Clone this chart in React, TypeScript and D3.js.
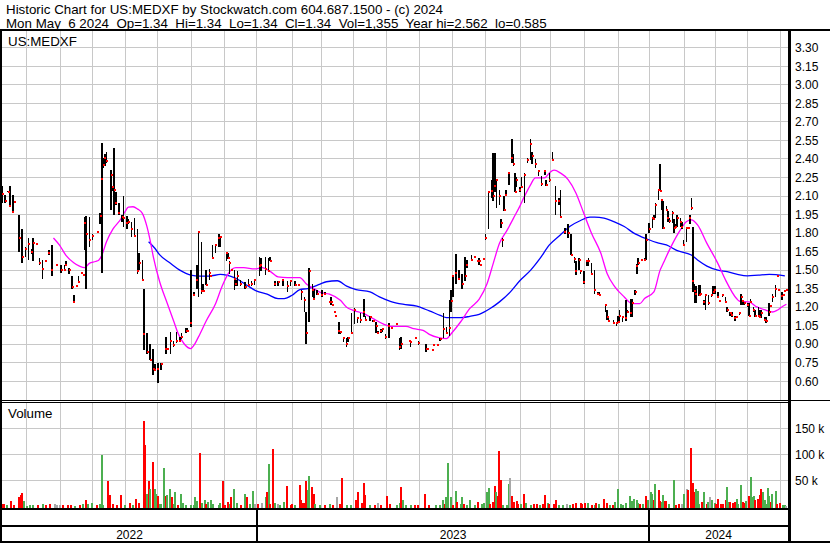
import * as d3 from "d3";

// trading-day index, high, low, close
const bars: [number, number, number, number][] = [
  [0, 2.18, 2.04, 2.12], [2, 2.11, 2.04, 2.06], [4, 2.14, 2.13, 2.13], [5, 2.18, 2.01, 2.02],
  [7, 2.11, 1.96, 1.97], [8, 2.05, 2.05, 2.05], [11, 1.95, 1.65, 1.76], [13, 1.83, 1.56, 1.61],
  [15, 1.69, 1.61, 1.67], [17, 1.76, 1.58, 1.71], [19, 1.67, 1.63, 1.65], [20, 1.76, 1.57, 1.72],
  [22, 1.71, 1.71, 1.71], [24, 1.6, 1.54, 1.56], [26, 1.58, 1.43, 1.51], [28, 1.57, 1.57, 1.57],
  [30, 1.66, 1.62, 1.64], [32, 1.7, 1.45, 1.5], [35, 1.54, 1.54, 1.54], [38, 1.54, 1.48, 1.5],
  [40, 1.54, 1.49, 1.5], [41, 1.57, 1.53, 1.54], [43, 1.52, 1.47, 1.5], [45, 1.45, 1.35, 1.36],
  [46, 1.3, 1.24, 1.24], [48, 1.37, 1.37, 1.37], [49, 1.45, 1.4, 1.4], [51, 1.48, 1.48, 1.48],
  [52, 1.46, 1.46, 1.46], [53, 1.93, 1.66, 1.88], [54, 1.94, 1.35, 1.79], [56, 1.93, 1.69, 1.74],
  [58, 1.79, 1.74, 1.78], [61, 1.81, 1.81, 1.81], [63, 1.96, 1.87, 1.94], [64, 2.53, 1.48, 2.24],
  [65, 2.41, 2.33, 2.35], [66, 2.44, 2.34, 2.41], [67, 2.46, 2.37, 2.38], [70, 2.31, 1.99, 2.27],
  [71, 2.17, 2.14, 2.17], [72, 2.49, 1.95, 2.15], [73, 2.13, 2.03, 2.04], [75, 2.04, 1.95, 1.96],
  [77, 1.95, 1.89, 1.93], [78, 2.1, 1.85, 1.92], [80, 1.94, 1.83, 1.88], [81, 1.91, 1.87, 1.89],
  [83, 1.89, 1.77, 1.83], [85, 1.92, 1.78, 1.78], [87, 1.83, 1.47, 1.49], [88, 1.64, 1.5, 1.56],
  [90, 1.58, 1.42, 1.42], [91, 1.35, 0.85, 0.98], [93, 0.99, 0.82, 0.84], [95, 0.9, 0.77, 0.77],
  [97, 0.86, 0.65, 0.7], [98, 0.74, 0.68, 0.69], [100, 0.75, 0.585, 0.7], [102, 0.75, 0.69, 0.74],
  [105, 0.96, 0.82, 0.86], [106, 0.86, 0.86, 0.86], [108, 1.0, 0.82, 0.93], [110, 0.93, 0.88, 0.89],
  [112, 1.0, 0.91, 0.93], [114, 0.96, 0.92, 0.93], [115, 0.99, 0.94, 0.96], [118, 1.03, 0.99, 1.01],
  [119, 1.03, 1.0, 1.01], [121, 1.5, 1.04, 1.07], [123, 1.32, 1.3, 1.3], [125, 1.54, 1.35, 1.42],
  [126, 1.82, 1.28, 1.81], [128, 1.73, 1.31, 1.33], [129, 1.39, 1.32, 1.33], [131, 1.5, 1.38, 1.38],
  [133, 1.51, 1.42, 1.48], [134, 1.45, 1.45, 1.45], [135, 1.7, 1.59, 1.6], [137, 1.7, 1.64, 1.7],
  [139, 1.79, 1.69, 1.76], [140, 1.77, 1.69, 1.77], [144, 1.65, 1.57, 1.64], [145, 1.64, 1.59, 1.6],
  [146, 1.57, 1.47, 1.56], [147, 1.5, 1.5, 1.5], [149, 1.5, 1.34, 1.43], [150, 1.42, 1.37, 1.39],
  [151, 1.49, 1.37, 1.45], [153, 1.42, 1.37, 1.39], [156, 1.4, 1.35, 1.36], [158, 1.43, 1.37, 1.38],
  [160, 1.41, 1.37, 1.39], [162, 1.43, 1.38, 1.42], [165, 1.61, 1.45, 1.53], [166, 1.6, 1.49, 1.54],
  [169, 1.61, 1.46, 1.51], [171, 1.6, 1.49, 1.49], [172, 1.61, 1.57, 1.57], [175, 1.41, 1.37, 1.39],
  [177, 1.41, 1.37, 1.4], [180, 1.42, 1.37, 1.42], [183, 1.41, 1.32, 1.37], [185, 1.42, 1.37, 1.41],
  [188, 1.41, 1.37, 1.38], [190, 1.39, 1.37, 1.38], [192, 1.34, 1.26, 1.32], [194, 1.28, 1.16, 1.26],
  [195, 1.16, 0.9, 0.99], [197, 1.52, 1.08, 1.49], [199, 1.39, 1.28, 1.34], [200, 1.35, 1.26, 1.27],
  [202, 1.34, 1.3, 1.31], [205, 1.34, 1.28, 1.3], [207, 1.32, 1.3, 1.31], [210, 1.24, 1.23, 1.24],
  [211, 1.28, 1.22, 1.24], [212, 1.22, 1.22, 1.22], [213, 1.16, 1.16, 1.16], [214, 1.13, 1.13, 1.13],
  [216, 1.08, 0.98, 1.01], [217, 1.01, 0.98, 1.0], [219, 0.96, 0.92, 0.95], [221, 0.95, 0.88, 0.9],
  [222, 0.96, 0.92, 0.95], [224, 1.15, 0.98, 0.99], [226, 1.19, 1.06, 1.18], [228, 1.12, 1.07, 1.11],
  [230, 1.15, 1.07, 1.1], [232, 1.27, 1.12, 1.16], [233, 1.13, 1.09, 1.1], [236, 1.13, 1.09, 1.12],
  [238, 1.1, 1.08, 1.09], [240, 1.08, 0.99, 1.05], [241, 1.01, 0.98, 0.99], [243, 1.02, 0.99, 1.01],
  [244, 1.03, 1.0, 1.02], [246, 0.98, 0.94, 0.96], [248, 1.07, 0.95, 1.05], [250, 1.03, 1.03, 1.03],
  [253, 1.06, 1.06, 1.06], [255, 0.95, 0.85, 0.88], [256, 0.96, 0.86, 0.9], [261, 0.93, 0.93, 0.93],
  [262, 0.93, 0.88, 0.92], [265, 0.95, 0.95, 0.95], [267, 0.93, 0.89, 0.91], [272, 0.9, 0.84, 0.86],
  [273, 0.86, 0.86, 0.86], [276, 0.85, 0.85, 0.85], [277, 0.89, 0.89, 0.89], [279, 0.89, 0.89, 0.89],
  [281, 0.95, 0.93, 0.94], [283, 1.15, 0.95, 1.02], [285, 1.04, 0.98, 0.99], [287, 1.26, 0.97, 1.03],
  [288, 1.34, 1.16, 1.25], [289, 1.46, 1.28, 1.45], [291, 1.63, 1.39, 1.48], [293, 1.5, 1.43, 1.43],
  [295, 1.47, 1.35, 1.39], [297, 1.61, 1.41, 1.45], [298, 1.58, 1.52, 1.54], [301, 1.62, 1.57, 1.58],
  [303, 1.61, 1.61, 1.61], [305, 1.57, 1.57, 1.57], [306, 1.6, 1.54, 1.57], [307, 1.54, 1.54, 1.54],
  [309, 1.59, 1.59, 1.59], [310, 1.79, 1.74, 1.76], [312, 2.13, 1.83, 2.13], [314, 2.23, 2.08, 2.14],
  [315, 2.45, 2.06, 2.1], [316, 2.45, 2.13, 2.18], [317, 2.23, 2.0, 2.23], [319, 2.15, 2.03, 2.1],
  [320, 1.91, 1.84, 1.88], [321, 1.76, 1.69, 1.74], [322, 2.1, 1.98, 1.99], [323, 2.15, 2.1, 2.11],
  [325, 2.29, 2.19, 2.29], [327, 2.56, 2.37, 2.41], [328, 2.44, 2.34, 2.36], [329, 2.29, 2.13, 2.13],
  [330, 2.25, 2.17, 2.23], [332, 2.17, 2.13, 2.15], [333, 2.25, 2.17, 2.17], [335, 2.29, 2.04, 2.27],
  [337, 2.41, 2.37, 2.39], [339, 2.562, 2.39, 2.52], [340, 2.46, 2.36, 2.42], [342, 2.4, 2.33, 2.36],
  [344, 2.31, 2.26, 2.3], [346, 2.26, 2.18, 2.2], [348, 2.31, 2.27, 2.3], [349, 2.23, 2.18, 2.19],
  [351, 2.29, 2.21, 2.23], [353, 2.46, 2.38, 2.39], [355, 2.18, 1.95, 2.06], [357, 2.08, 2.03, 2.06],
  [358, 2.15, 1.93, 1.93], [361, 1.84, 1.79, 1.81], [363, 1.87, 1.76, 1.8], [365, 1.79, 1.62, 1.62],
  [367, 1.61, 1.56, 1.59], [368, 1.57, 1.46, 1.49], [370, 1.6, 1.5, 1.58], [371, 1.5, 1.47, 1.49],
  [373, 1.49, 1.39, 1.4], [375, 1.58, 1.53, 1.57], [376, 1.6, 1.53, 1.57], [378, 1.56, 1.47, 1.47],
  [380, 1.5, 1.31, 1.34], [382, 1.32, 1.3, 1.31], [383, 1.32, 1.3, 1.3], [387, 1.22, 1.16, 1.22],
  [388, 1.18, 1.1, 1.12], [389, 1.11, 1.08, 1.09], [392, 1.1, 1.06, 1.07], [394, 1.08, 1.05, 1.07],
  [395, 1.13, 1.07, 1.08], [396, 1.18, 1.09, 1.13], [398, 1.13, 1.08, 1.12], [400, 1.26, 1.09, 1.11],
  [401, 1.18, 1.15, 1.16], [403, 1.27, 1.12, 1.15], [404, 1.27, 1.12, 1.23], [406, 1.34, 1.3, 1.32],
  [407, 1.55, 1.47, 1.53], [408, 1.6, 1.54, 1.56], [410, 1.59, 1.57, 1.58], [412, 1.6, 1.58, 1.58],
  [413, 1.79, 1.58, 1.74], [415, 1.88, 1.8, 1.83], [417, 1.93, 1.84, 1.92], [418, 1.95, 1.91, 1.91],
  [419, 2.04, 1.92, 2.03], [421, 2.15, 2.07, 2.15], [422, 2.36, 2.14, 2.14], [423, 2.07, 1.99, 2.07],
  [424, 2.06, 1.83, 1.84], [426, 2.02, 1.98, 1.99], [427, 1.98, 1.89, 1.92], [428, 1.92, 1.88, 1.9],
  [430, 1.98, 1.88, 1.96], [431, 1.91, 1.8, 1.84], [432, 1.87, 1.84, 1.85], [433, 1.95, 1.85, 1.92],
  [435, 1.92, 1.85, 1.89], [436, 1.89, 1.83, 1.85], [437, 1.74, 1.7, 1.7], [439, 1.84, 1.73, 1.84],
  [440, 1.85, 1.83, 1.84], [441, 1.95, 1.87, 1.92], [442, 2.08, 1.99, 2.0], [443, 1.85, 1.32, 1.41],
  [444, 1.39, 1.23, 1.33], [445, 1.37, 1.23, 1.31], [447, 1.38, 1.29, 1.3], [448, 1.38, 1.31, 1.31],
  [450, 1.26, 1.22, 1.24], [451, 1.3, 1.18, 1.3], [453, 1.3, 1.22, 1.23], [455, 1.3, 1.28, 1.3],
  [456, 1.37, 1.31, 1.32], [457, 1.37, 1.31, 1.34], [459, 1.32, 1.28, 1.28], [460, 1.25, 1.25, 1.25],
  [462, 1.31, 1.28, 1.3], [464, 1.28, 1.23, 1.24], [465, 1.2, 1.16, 1.18], [467, 1.16, 1.13, 1.15],
  [468, 1.16, 1.12, 1.14], [470, 1.13, 1.09, 1.11], [471, 1.12, 1.11, 1.12], [473, 1.16, 1.14, 1.15],
  [474, 1.31, 1.22, 1.28], [475, 1.26, 1.22, 1.25], [476, 1.24, 1.22, 1.23], [478, 1.23, 1.2, 1.22],
  [479, 1.23, 1.13, 1.13], [480, 1.27, 1.23, 1.24], [482, 1.2, 1.16, 1.18], [483, 1.18, 1.12, 1.13],
  [485, 1.2, 1.12, 1.13], [486, 1.18, 1.12, 1.12], [487, 1.18, 1.11, 1.15], [489, 1.12, 1.09, 1.1],
  [490, 1.12, 1.07, 1.09], [492, 1.23, 1.13, 1.16], [493, 1.21, 1.21, 1.21], [494, 1.31, 1.24, 1.28],
  [496, 1.38, 1.28, 1.35], [497, 1.45, 1.45, 1.45], [498, 1.34, 1.34, 1.34], [500, 1.32, 1.26, 1.29],
  [501, 1.3, 1.3, 1.3], [502, 1.33, 1.33, 1.33], [503, 1.34, 1.34, 1.34],
];

// trading-day index, volume in thousands, u = up / d = down / n = unchanged
const volume: [number, number, string][] = [
  [0, 4, "d"], [1, 5, "d"], [3, 2, "u"], [6, 11, "d"], [8, 2, "d"], [11, 18, "d"], [12, 22, "d"], [13, 26, "d"],
  [14, 11, "u"], [16, 1, "u"], [18, 2, "u"], [20, 2, "u"], [23, 3, "d"], [26, 4, "u"], [28, 2, "d"], [31, 4, "d"],
  [34, 4, "n"], [35, 3, "n"], [37, 2, "n"], [39, 2, "d"], [42, 3, "d"], [44, 2, "d"], [47, 1, "u"], [50, 3, "d"],
  [52, 5, "u"], [54, 13, "d"], [55, 4, "u"], [58, 6, "u"], [61, 2, "d"], [63, 4, "u"], [64, 98, "u"], [65, 3, "u"],
  [68, 49, "d"], [69, 21, "d"], [71, 4, "d"], [74, 2, "d"], [76, 21, "d"], [79, 2, "u"], [82, 6, "d"], [84, 2, "u"],
  [86, 14, "d"], [88, 7, "d"], [91, 165, "d"], [92, 117, "d"], [93, 23, "u"], [94, 48, "d"], [95, 33, "u"], [97, 86, "d"],
  [98, 33, "u"], [99, 23, "u"], [100, 19, "d"], [101, 5, "u"], [102, 4, "u"], [104, 74, "u"], [105, 19, "d"], [106, 21, "u"],
  [108, 34, "u"], [109, 17, "d"], [110, 5, "u"], [111, 27, "u"], [113, 3, "d"], [115, 23, "u"], [116, 6, "u"], [118, 3, "u"],
  [121, 2, "u"], [123, 3, "u"], [124, 17, "u"], [125, 11, "u"], [127, 103, "d"], [128, 6, "u"], [130, 12, "u"], [131, 4, "d"],
  [132, 8, "u"], [134, 12, "u"], [135, 5, "u"], [139, 2, "u"], [140, 6, "u"], [142, 48, "d"], [143, 2, "d"], [145, 8, "d"],
  [146, 4, "u"], [147, 17, "d"], [149, 33, "u"], [151, 6, "u"], [153, 2, "d"], [156, 24, "u"], [157, 17, "d"], [159, 4, "u"],
  [161, 30, "u"], [162, 4, "n"], [164, 5, "d"], [167, 6, "n"], [169, 17, "u"], [170, 27, "d"], [171, 82, "u"], [172, 5, "d"],
  [174, 111, "d"], [175, 6, "u"], [177, 5, "n"], [178, 2, "u"], [181, 8, "u"], [183, 40, "d"], [185, 2, "d"], [186, 4, "d"],
  [188, 2, "u"], [191, 41, "d"], [192, 12, "d"], [193, 7, "d"], [194, 7, "d"], [195, 48, "d"], [196, 31, "u"], [197, 58, "u"],
  [199, 37, "d"], [200, 23, "d"], [201, 5, "u"], [204, 2, "u"], [207, 2, "d"], [210, 4, "u"], [212, 2, "d"], [215, 17, "n"],
  [217, 4, "d"], [218, 54, "d"], [221, 3, "u"], [224, 3, "u"], [227, 12, "d"], [228, 27, "d"], [231, 6, "d"], [232, 44, "d"],
  [233, 21, "d"], [236, 2, "u"], [239, 3, "d"], [241, 6, "n"], [243, 3, "d"], [247, 19, "d"], [249, 4, "d"], [253, 2, "u"],
  [255, 6, "u"], [256, 37, "d"], [257, 12, "u"], [259, 2, "u"], [262, 2, "u"], [265, 3, "d"], [267, 2, "d"], [271, 23, "d"],
  [274, 2, "d"], [278, 2, "u"], [281, 3, "u"], [283, 12, "u"], [284, 5, "d"], [285, 17, "u"], [286, 83, "u"], [288, 17, "u"],
  [289, 3, "d"], [291, 30, "u"], [292, 9, "d"], [294, 4, "u"], [295, 17, "u"], [296, 4, "d"], [298, 3, "u"], [300, 12, "u"],
  [303, 2, "u"], [305, 8, "d"], [308, 4, "u"], [309, 6, "u"], [311, 27, "u"], [312, 36, "u"], [313, 4, "d"], [315, 8, "d"],
  [316, 40, "d"], [317, 27, "u"], [318, 19, "d"], [319, 106, "d"], [320, 51, "d"], [321, 2, "u"], [324, 2, "u"], [325, 43, "u"],
  [326, 55, "n"], [327, 19, "d"], [328, 9, "d"], [330, 11, "d"], [331, 5, "d"], [333, 5, "u"], [335, 24, "d"], [336, 6, "u"],
  [339, 2, "u"], [341, 4, "d"], [343, 5, "d"], [345, 2, "u"], [347, 5, "d"], [348, 21, "d"], [350, 7, "u"], [351, 4, "d"],
  [354, 4, "d"], [355, 12, "d"], [357, 2, "u"], [360, 2, "u"], [362, 5, "n"], [364, 3, "u"], [366, 5, "d"], [368, 6, "d"],
  [371, 6, "d"], [372, 5, "d"], [374, 6, "d"], [376, 7, "u"], [378, 3, "d"], [380, 2, "u"], [381, 7, "d"], [383, 5, "u"],
  [386, 14, "d"], [388, 7, "d"], [390, 2, "u"], [392, 2, "d"], [393, 8, "u"], [395, 33, "u"], [397, 5, "u"], [398, 2, "u"],
  [400, 7, "u"], [403, 19, "u"], [404, 10, "u"], [405, 14, "u"], [407, 12, "u"], [408, 7, "u"], [409, 5, "d"], [411, 5, "u"],
  [413, 20, "d"], [414, 12, "u"], [416, 27, "u"], [417, 24, "u"], [418, 12, "d"], [419, 43, "u"], [421, 31, "d"], [422, 11, "d"],
  [423, 8, "u"], [424, 21, "u"], [425, 10, "d"], [426, 10, "d"], [428, 4, "u"], [431, 50, "u"], [432, 3, "d"], [434, 4, "d"],
  [436, 4, "n"], [437, 23, "u"], [439, 33, "n"], [440, 31, "d"], [442, 113, "d"], [443, 45, "d"], [444, 27, "d"], [445, 33, "u"],
  [446, 30, "u"], [447, 4, "u"], [449, 9, "d"], [450, 27, "u"], [452, 4, "d"], [453, 8, "u"], [454, 17, "n"], [455, 12, "u"],
  [457, 6, "u"], [458, 4, "d"], [459, 15, "d"], [461, 4, "d"], [462, 4, "d"], [464, 12, "d"], [465, 37, "u"], [466, 8, "u"],
  [467, 8, "d"], [469, 7, "d"], [470, 8, "d"], [471, 15, "u"], [472, 4, "u"], [474, 41, "u"], [475, 8, "d"], [476, 6, "d"],
  [477, 10, "u"], [479, 19, "d"], [480, 56, "u"], [481, 17, "u"], [482, 20, "u"], [483, 12, "d"], [485, 15, "d"], [486, 22, "d"],
  [487, 33, "d"], [488, 27, "u"], [489, 12, "u"], [490, 4, "u"], [491, 36, "u"], [492, 19, "u"], [493, 8, "d"], [494, 23, "u"],
  [496, 30, "u"], [497, 5, "d"], [499, 6, "d"], [501, 2, "u"], [502, 2, "u"], [503, 1.4, "n"],
];

// moving averages: [trading-day index, value]
const maShort: [number, number][] = [
  [33, 1.76], [37, 1.7], [41, 1.62], [46, 1.56], [50, 1.53], [53, 1.52], [56, 1.555], [60, 1.57],
  [62, 1.58], [64, 1.62], [67, 1.73], [71, 1.83], [76, 1.91], [79, 1.975], [81, 2.01], [84, 2.013],
  [87, 1.994], [90, 1.96], [93, 1.85], [95, 1.74], [97, 1.61], [101, 1.41], [106, 1.23], [110, 1.09],
  [113, 0.985], [117, 0.9], [121, 0.865], [123, 0.89], [126, 0.96], [131, 1.09], [137, 1.23], [141, 1.365],
  [145, 1.47], [150, 1.52], [155, 1.52], [162, 1.51], [167, 1.52], [172, 1.49], [177, 1.445], [183, 1.44],
  [191, 1.44], [195, 1.39], [200, 1.35], [204, 1.32], [210, 1.305], [217, 1.256], [221, 1.2], [225, 1.175],
  [232, 1.148], [238, 1.107], [245, 1.061], [249, 1.045], [259, 1.045], [264, 1.026], [270, 1.012], [274, 0.98],
  [280, 0.953], [285, 0.945], [288, 0.985], [294, 1.08], [300, 1.19], [306, 1.265], [311, 1.39], [315, 1.555],
  [319, 1.717], [324, 1.826], [328, 1.921], [332, 2.016], [335, 2.097], [339, 2.193], [342, 2.247], [348, 2.247],
  [351, 2.287], [354, 2.309], [358, 2.287], [363, 2.233], [368, 2.125], [373, 1.962], [378, 1.799], [384, 1.636],
  [388, 1.473], [393, 1.365], [399, 1.283], [404, 1.229], [409, 1.229], [412, 1.27], [418, 1.324], [422, 1.5],
  [424, 1.555], [429, 1.69], [435, 1.826], [439, 1.894], [442, 1.907], [446, 1.867], [452, 1.717], [459, 1.555],
  [464, 1.419], [471, 1.27], [473, 1.248], [479, 1.243], [484, 1.202], [490, 1.175], [494, 1.161], [497, 1.175],
  [500, 1.202], [503, 1.224],
];

const maLong: [number, number][] = [
  [94, 1.73], [98, 1.677], [101, 1.625], [108, 1.555], [114, 1.5], [121, 1.46], [127, 1.452], [133, 1.452],
  [140, 1.465], [144, 1.46], [150, 1.433], [157, 1.378], [163, 1.332], [170, 1.305], [177, 1.27], [181, 1.27],
  [186, 1.297], [191, 1.343], [196, 1.351], [204, 1.387], [208, 1.406], [215, 1.414], [221, 1.37], [227, 1.343],
  [236, 1.324], [242, 1.283], [249, 1.248], [257, 1.224], [266, 1.208], [274, 1.17], [281, 1.134], [285, 1.115],
  [294, 1.115], [300, 1.126], [306, 1.142], [313, 1.189], [319, 1.243], [326, 1.324], [332, 1.414], [339, 1.5],
  [345, 1.595], [351, 1.704], [358, 1.785], [364, 1.853], [371, 1.902], [377, 1.929], [380, 1.929], [386, 1.921],
  [393, 1.889], [399, 1.853], [406, 1.793], [410, 1.77], [414, 1.75], [420, 1.723], [426, 1.704], [433, 1.658],
  [442, 1.622], [446, 1.582], [452, 1.533], [459, 1.5], [465, 1.487], [471, 1.468], [478, 1.454], [485, 1.46],
  [492, 1.465], [502, 1.454],
];

const priceTicks = [0.6, 0.75, 0.9, 1.05, 1.2, 1.35, 1.5, 1.65, 1.8, 1.95, 2.1, 2.25, 2.4, 2.55, 2.7, 2.85, 3.0, 3.15, 3.3];
const volTicks = [50, 100, 150];
const monthStarts = [16, 37.5, 58, 79.5, 100, 121.5, 142.5, 163.5, 186, 205, 225.5, 246.5, 268, 289, 310, 332.5, 352, 373.5, 395, 415, 437.5, 457.5, 478, 499.5];
const yearLabels = ["2022", "2023", "2024"];
const yearBounds = [0, 163.5, 415, 504];

const TITLE = "Historic Chart for US:MEDXF by Stockwatch.com 604.687.1500 - (c) 2024";
const SUBTITLE = "Mon May  6 2024  Op=1.34  Hi=1.34  Lo=1.34  Cl=1.34  Vol=1,355  Year hi=2.562  lo=0.585";

const FONT = "'Liberation Sans', Arial, sans-serif";
const GRID = "#c8c8c8";
const RED = "#ff0000";
const GREEN = "#4caf50";
const GREY = "#a8a8a8";

const W = 830;
const H = 543;
const LEFT = 2;
const RIGHT = 788;
const PRICE_TOP = 31;
const PRICE_BOTTOM = 400;
const VOL_TOP = 403;
const VOL_BOTTOM = 508.5;

export default function App() {
  const x = d3.scaleLinear().domain([0, 504]).range([LEFT, RIGHT]);
  const y = d3.scaleLinear().domain([0.6, 3.3]).range([381.3, 47.8]);
  const yv = d3.scaleLinear().domain([0, 150]).range([506.3, 428.3]);

  const maLine = d3
    .line<[number, number]>()
    .x((d) => x(d[0]))
    .y((d) => y(d[1]))
    .curve(d3.curveMonotoneX);

  const volColor = (c: string) => (c === "u" ? GREEN : c === "d" ? RED : GREY);

  return (
    <svg
      width={W}
      height={H}
      style={{ position: "absolute", left: 0, top: 0, background: "#fff" }}
      fontFamily={FONT}
    >
      <defs>
        <clipPath id="price-clip">
          <rect x={LEFT} y={PRICE_TOP} width={RIGHT - LEFT} height={PRICE_BOTTOM - PRICE_TOP} />
        </clipPath>
      </defs>

      {/* header */}
      <text x={6} y={14} fontSize={13.33} fill="#000" style={{ whiteSpace: "pre" }}>{TITLE}</text>
      <text x={6} y={28.3} fontSize={13.33} fill="#000" style={{ whiteSpace: "pre" }}>{SUBTITLE}</text>

      {/* grid */}
      <g stroke={GRID} strokeWidth={1} shapeRendering="crispEdges">
        {priceTicks.map((t) => (
          <line key={"p" + t} x1={LEFT} x2={RIGHT} y1={y(t)} y2={y(t)} />
        ))}
        {volTicks.map((t) => (
          <line key={"v" + t} x1={LEFT} x2={RIGHT} y1={yv(t)} y2={yv(t)} />
        ))}
        {monthStarts.map((m) => (
          <g key={"m" + m}>
            <line x1={x(m)} x2={x(m)} y1={PRICE_TOP} y2={PRICE_BOTTOM} />
            <line x1={x(m)} x2={x(m)} y1={VOL_TOP} y2={VOL_BOTTOM} />
          </g>
        ))}
      </g>

      {/* moving averages */}
      <g clipPath="url(#price-clip)" fill="none" strokeWidth={1.3}>
        <path d={maLine(maLong) || ""} stroke="#0000ff" />
        <path d={maLine(maShort) || ""} stroke="#ff00ff" />
      </g>

      {/* price bars */}
      <g clipPath="url(#price-clip)" shapeRendering="crispEdges">
        {bars.map(([d, h, l]) =>
          h > l ? (
            <rect key={"b" + d} x={x(d) - 0.8} y={y(h)} width={1.6} height={Math.max(1, y(l) - y(h))} fill="#000" />
          ) : null,
        )}
        {bars.map(([d, , , c]) => (
          <rect key={"c" + d} x={x(d) - 0.5} y={y(c) - 1} width={2} height={2} fill={RED} />
        ))}
      </g>

      {/* volume bars */}
      <g shapeRendering="crispEdges">
        {volume.map(([d, v, c]) => (
          <rect
            key={"vol" + d}
            x={x(d) - 1}
            y={yv(v)}
            width={2}
            height={VOL_BOTTOM - yv(v)}
            fill={volColor(c)}
          />
        ))}
      </g>

      {/* panel labels */}
      <text x={8} y={46} fontSize={13.33} fill="#000">US:MEDXF</text>
      <text x={8} y={418} fontSize={13.33} fill="#000">Volume</text>

      {/* right axis labels */}
      {priceTicks.map((t) => (
        <text key={"pl" + t} x={795} y={y(t)} dy="0.35em" fontSize={12} fill="#000">
          {t.toFixed(2)}
        </text>
      ))}
      {volTicks.map((t) => (
        <text key={"vl" + t} x={795} y={yv(t)} dy="0.35em" fontSize={12} fill="#000">
          {t + " k"}
        </text>
      ))}

      {/* frame */}
      <g stroke="#000" shapeRendering="crispEdges">
        <line x1={0} x2={W} y1={30} y2={30} strokeWidth={1.5} />
        <line x1={1} x2={1} y1={30} y2={H} strokeWidth={2} />
        <line x1={789.5} x2={789.5} y1={30} y2={H} strokeWidth={2.5} />
        <line x1={0} x2={W} y1={400} y2={400} strokeWidth={1} />
        <line x1={0} x2={RIGHT} y1={402.5} y2={402.5} strokeWidth={1} />
        <line x1={0} x2={RIGHT} y1={509.3} y2={509.3} strokeWidth={2} />
        <line x1={0} x2={RIGHT} y1={525.8} y2={525.8} strokeWidth={2} />
        <line x1={0} x2={W} y1={541.7} y2={541.7} strokeWidth={2} />
        {yearBounds.slice(1, -1).map((b) => (
          <line key={"yb" + b} x1={x(b)} x2={x(b)} y1={509} y2={542} strokeWidth={2} />
        ))}
      </g>

      {/* year labels */}
      {yearLabels.map((lab, i) => (
        <text
          key={lab}
          x={(x(yearBounds[i]) + Math.min(x(yearBounds[i + 1]), RIGHT)) / 2}
          y={539}
          textAnchor="middle"
          fontSize={12}
          fill="#000"
        >
          {lab}
        </text>
      ))}
    </svg>
  );
}
